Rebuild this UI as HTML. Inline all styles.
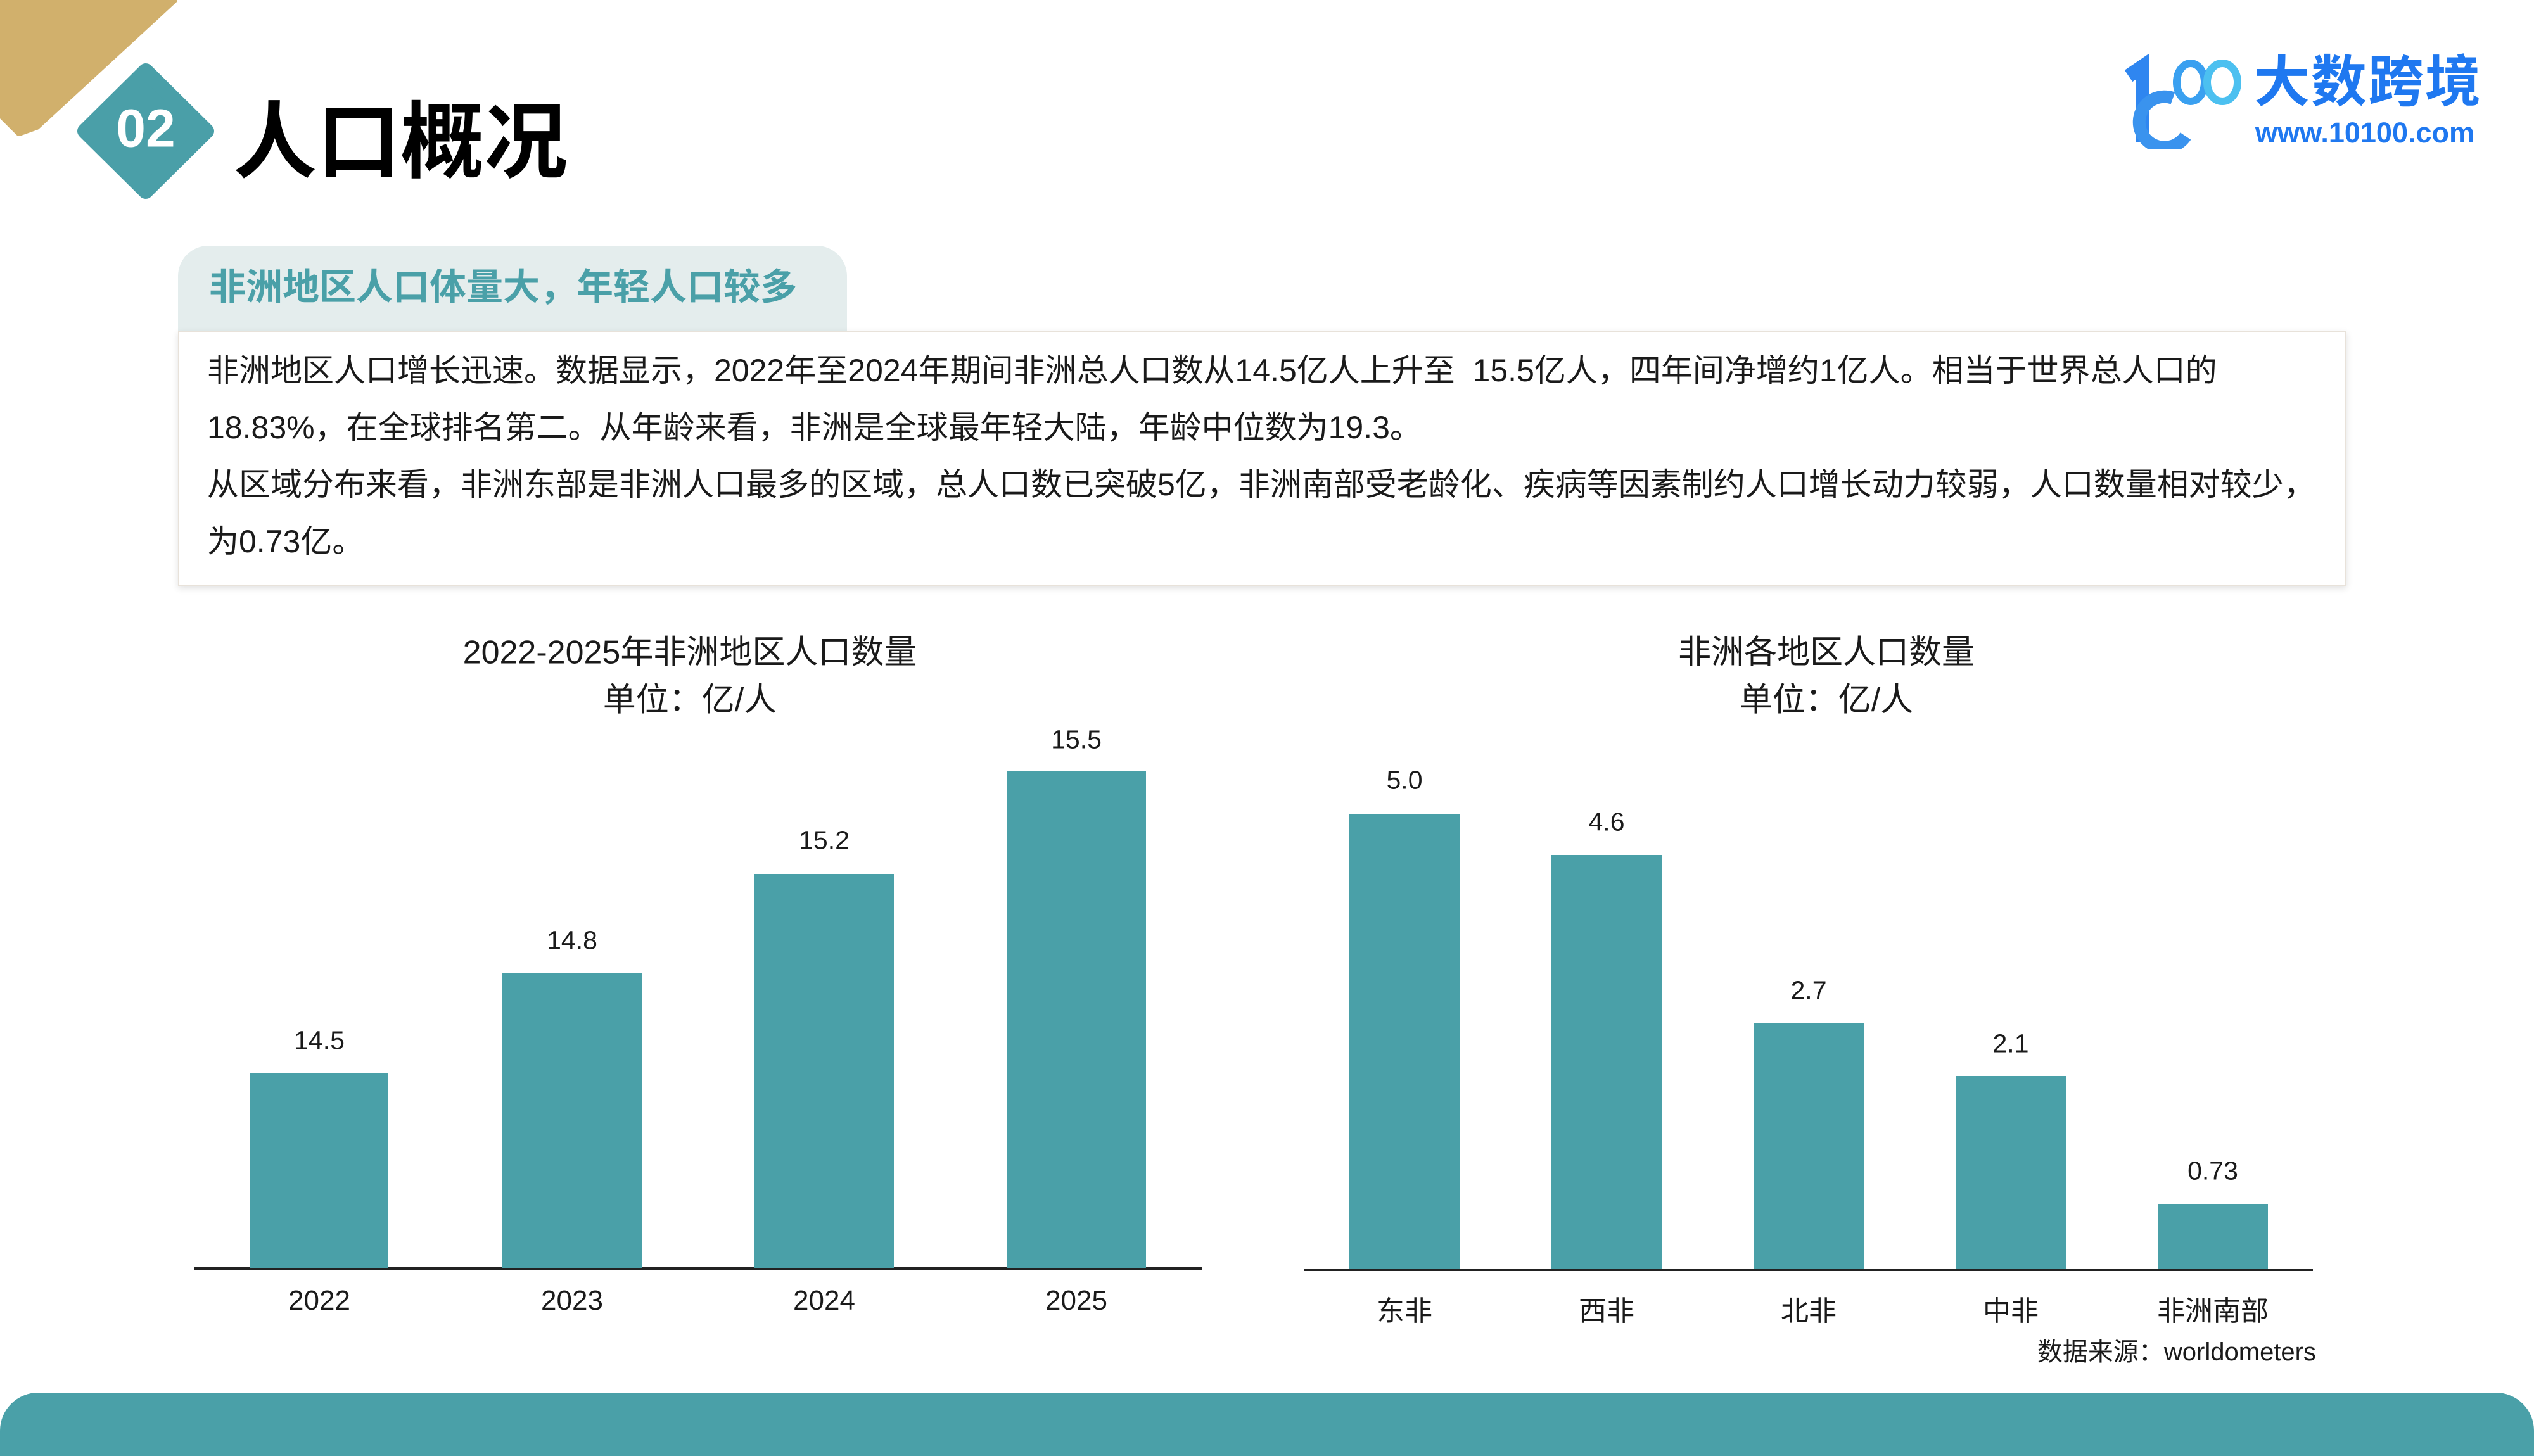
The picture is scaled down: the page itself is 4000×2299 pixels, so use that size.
<!DOCTYPE html>
<html><head><meta charset="utf-8"><style>
*{margin:0;padding:0;box-sizing:border-box}
body{width:4000px;height:2250px;position:relative;background:#fff;overflow:hidden;font-family:"Liberation Sans","Noto Sans CJK SC",sans-serif;color:#1a1a1a}
.a{position:absolute;white-space:nowrap}
.c{transform:translate(-50%,-50%)}
.bar{position:absolute;background:#4aa0a8}
.v{position:absolute;font-size:41px;transform:translate(-50%,-50%);white-space:nowrap}
</style></head><body>
<svg class="a" style="left:0;top:0" width="400" height="340">
<polygon points="0,0 275,0 58,200 30,210 0,180" fill="#d1b06c" stroke="#d1b06c" stroke-width="10" stroke-linejoin="round"/>
<polygon points="230,112 326,207 230,302 134,207" fill="#4a9fa8" stroke="#4a9fa8" stroke-width="24" stroke-linejoin="round"/>
</svg>
<div class="a c" style="left:230px;top:203px;font-size:84px;font-weight:bold;color:#fff">02</div>
<div class="a" style="left:368px;top:150px;font-size:132px;font-weight:bold;line-height:150px;color:#000">人口概况</div>
<svg class="a" style="left:3340px;top:85px" width="220" height="150">
<path d="M20 35 L42 20 L42 140" stroke="#2f86f0" stroke-width="22" fill="none"/>
<path d="M90 70 A40 40 0 1 0 110 130" stroke="#3a93ee" stroke-width="20" fill="none"/>
<ellipse cx="118" cy="45" rx="22" ry="30" stroke="#3aa0f0" stroke-width="12" fill="none"/>
<ellipse cx="168" cy="45" rx="24" ry="30" stroke="#4cc0f0" stroke-width="12" fill="none"/>
</svg>
<div class="a" style="left:3558px;top:80px;font-size:88px;font-weight:bold;color:#1f78f0;line-height:100px;letter-spacing:2px">大数跨境</div>
<div class="a" style="left:3560px;top:185px;font-size:45px;font-weight:bold;color:#1f78f0;line-height:50px">www.10100.com</div>

<div class="a" style="left:281px;top:388px;width:1056px;height:140px;background:#e4eded;border-radius:48px 48px 0 0"></div>
<div class="a" style="left:330px;top:418px;font-size:58px;font-weight:bold;color:#4aa0a8;line-height:72px">非洲地区人口体量大，年轻人口较多</div>
<div class="a" style="left:281px;top:523px;width:3423px;height:403px;background:#fff;border:2px solid #e8e2da;box-shadow:0 3px 10px rgba(0,0,0,0.12)"></div>
<div class="a" style="left:327px;top:540px;font-size:50px;line-height:90px">非洲地区人口增长迅速。数据显示，2022年至2024年期间非洲总人口数从14.5亿人上升至 &nbsp;15.5亿人，四年间净增约1亿人。相当于世界总人口的<br>18.83%，在全球排名第二。从年龄来看，非洲是全球最年轻大陆，年龄中位数为19.3。<br>从区域分布来看，非洲东部是非洲人口最多的区域，总人口数已突破5亿，非洲南部受老龄化、疾病等因素制约人口增长动力较弱，人口数量相对较少，<br>为0.73亿。</div>

<div class="a c" style="left:1089px;top:1025px;font-size:52px">2022-2025年非洲地区人口数量</div>
<div class="a c" style="left:1089px;top:1100px;font-size:52px">单位：亿/人</div>
<div class="a" style="left:306px;top:2001px;width:1592px;height:4px;background:#222"></div>
<div class="bar" style="left:395px;top:1694px;width:218px;height:308px"></div>
<div class="bar" style="left:793px;top:1536px;width:220px;height:466px"></div>
<div class="bar" style="left:1191px;top:1380px;width:220px;height:622px"></div>
<div class="bar" style="left:1589px;top:1217px;width:220px;height:785px"></div>
<div class="v" style="left:504px;top:1643px">14.5</div>
<div class="v" style="left:903px;top:1485px">14.8</div>
<div class="v" style="left:1301px;top:1327px">15.2</div>
<div class="v" style="left:1699px;top:1168px">15.5</div>
<div class="v" style="left:504px;top:2054px;font-size:44px">2022</div>
<div class="v" style="left:903px;top:2054px;font-size:44px">2023</div>
<div class="v" style="left:1301px;top:2054px;font-size:44px">2024</div>
<div class="v" style="left:1699px;top:2054px;font-size:44px">2025</div>

<div class="a c" style="left:2883px;top:1025px;font-size:52px">非洲各地区人口数量</div>
<div class="a c" style="left:2883px;top:1100px;font-size:52px">单位：亿/人</div>
<div class="a" style="left:2059px;top:2003px;width:1592px;height:4px;background:#222"></div>
<div class="bar" style="left:2130px;top:1286px;width:174px;height:718px"></div>
<div class="bar" style="left:2449px;top:1350px;width:174px;height:654px"></div>
<div class="bar" style="left:2768px;top:1615px;width:174px;height:389px"></div>
<div class="bar" style="left:3087px;top:1699px;width:174px;height:305px"></div>
<div class="bar" style="left:3406px;top:1901px;width:174px;height:103px"></div>
<div class="v" style="left:2217px;top:1232px">5.0</div>
<div class="v" style="left:2536px;top:1298px">4.6</div>
<div class="v" style="left:2855px;top:1564px">2.7</div>
<div class="v" style="left:3174px;top:1648px">2.1</div>
<div class="v" style="left:3493px;top:1849px">0.73</div>
<div class="v" style="left:2217px;top:2066px;font-size:44px">东非</div>
<div class="v" style="left:2536px;top:2066px;font-size:44px">西非</div>
<div class="v" style="left:2855px;top:2066px;font-size:44px">北非</div>
<div class="v" style="left:3174px;top:2066px;font-size:44px">中非</div>
<div class="v" style="left:3493px;top:2066px;font-size:44px">非洲南部</div>
<div class="a" style="right:344px;top:2110px;font-size:40px;line-height:50px">数据来源：worldometers</div>

<div class="a" style="left:0;top:2199px;width:4000px;height:100px;background:#4aa0a8;border-radius:60px 60px 0 0"></div>
</body></html>
